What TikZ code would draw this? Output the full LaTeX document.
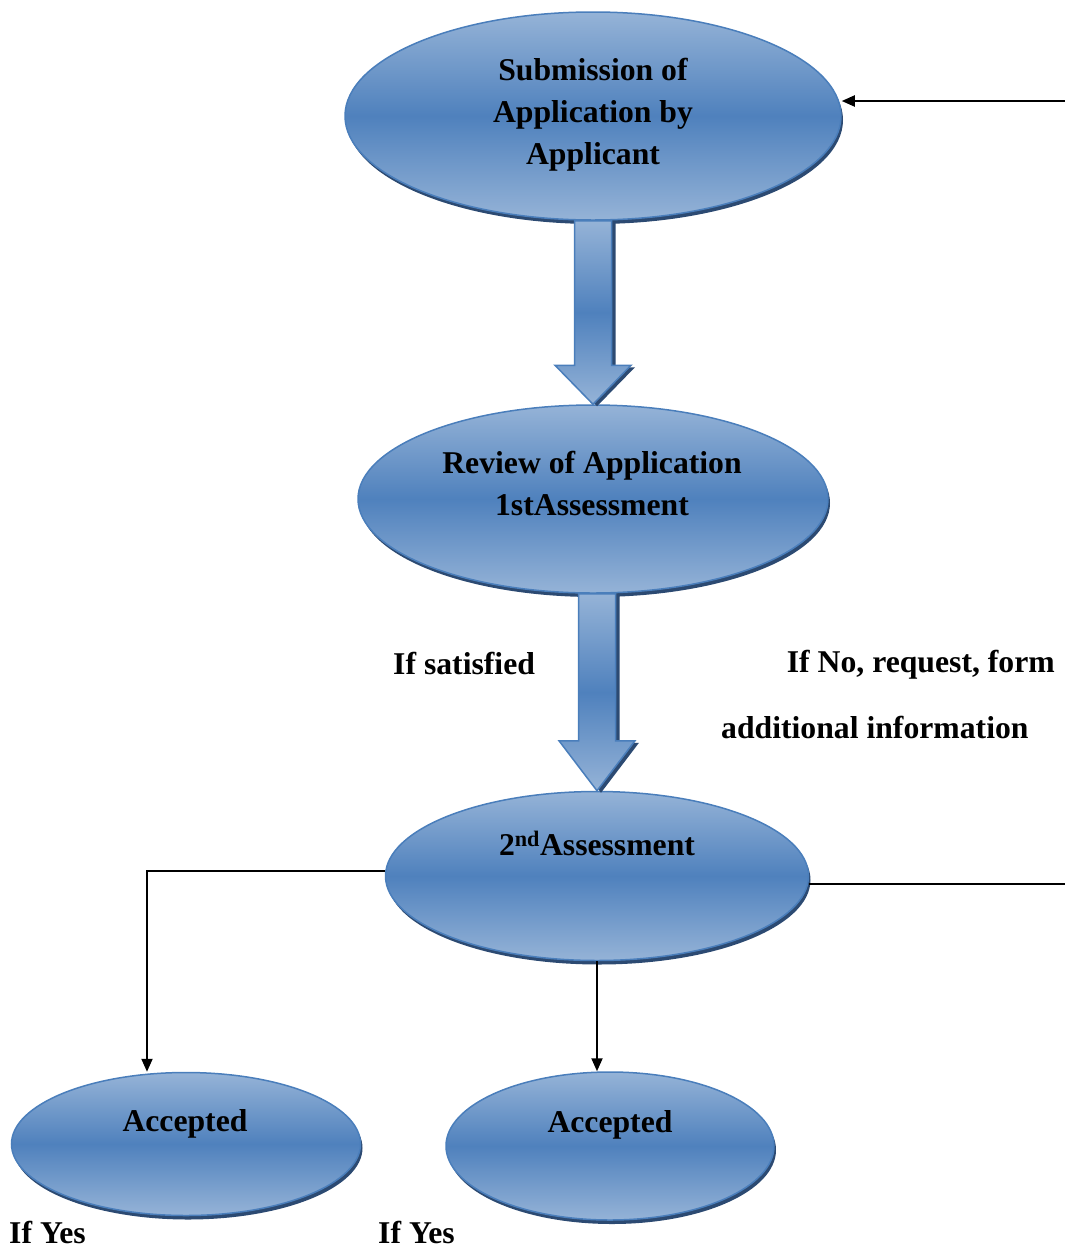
\documentclass[tikz,border=0pt]{standalone}
\usepackage{fontspec}
\setmainfont{Liberation Serif}
\usetikzlibrary{shapes.geometric,arrows.meta,shadows}
\definecolor{bmid}{HTML}{4F81BD}
\definecolor{blite}{HTML}{95B3D7}
\definecolor{bedge}{HTML}{4A7EBB}
\definecolor{bshad}{HTML}{2C4A72}
\tikzset{
  oval/.style={ellipse, draw=bedge, line width=1.5pt, inner sep=0pt,
    top color=blite, bottom color=blite, middle color=bmid,
    drop shadow={shadow xshift=2pt, shadow yshift=-4pt, fill=bshad, opacity=1}},
  barrow/.style={draw=bedge, line width=1.5pt, line join=miter,
    top color=blite, bottom color=blite, middle color=bmid,
    drop shadow={shadow xshift=4pt, shadow yshift=-2pt, fill=bshad, opacity=1}},
  txt/.style={font=\bfseries\fontsize{31.7}{42}\selectfont, inner sep=0pt, align=center},
  conn/.style={line width=2pt, black},
  arr/.style={conn, -{Triangle[length=13pt,width=11pt]}}
}
\begin{document}
\begin{tikzpicture}[x=1pt,y=-1pt]
\useasboundingbox (0,0) rectangle (1065,1248);
% ellipses
\node[oval, minimum width=496pt, minimum height=208pt] (sub) at (593,116) {};
\node[oval, minimum width=470pt, minimum height=188pt] (rev) at (593,499) {};
\node[oval, minimum width=423pt, minimum height=169pt] (a2) at (597,876) {};
\node[oval, minimum width=349pt, minimum height=143pt] (acc1) at (186,1144) {};
\node[oval, minimum width=328pt, minimum height=148pt] (acc2) at (610,1146) {};
% texts
\node[txt] (subt) at (593,115) {Submission of\\Application by\\Applicant};
\node[txt] (revt) at (592,483) {Review of Application\\1stAssessment};
\node[txt] (a2t) at (597,843) {2\textsuperscript{nd}Assessment};
\node[txt] (acc1t) at (185,1124) {Accepted};
\node[txt] (acc2t) at (610,1125) {Accepted};
% block arrows
\path[barrow] ([xshift=-18.5pt]sub.south) -- ([xshift=18.5pt]sub.south)
  -- ([xshift=18.5pt,yshift=39pt]rev.north) -- ([xshift=38pt,yshift=39pt]rev.north)
  -- (rev.north) -- ([xshift=-38pt,yshift=39pt]rev.north)
  -- ([xshift=-18.5pt,yshift=39pt]rev.north) -- cycle;
\coordinate (b2s) at (rev.south -| a2.north);
\path[barrow] ([xshift=-18.5pt]b2s) -- ([xshift=18.5pt]b2s)
  -- ([xshift=18.5pt,yshift=50pt]a2.north) -- ([xshift=38pt,yshift=50pt]a2.north)
  -- (a2.north) -- ([xshift=-38pt,yshift=50pt]a2.north)
  -- ([xshift=-18.5pt,yshift=50pt]a2.north) -- cycle;
% labels
\node[txt, anchor=west] (lsat) at (393,663) {If satisfied};
\node[txt, anchor=east] (lno) at (1055,665) {If No, request, form};
\node[txt, anchor=west] (ladd) at (721,727) {additional information};
\node[txt, anchor=west] (ly1) at (9,1232) {If Yes};
\node[txt, anchor=west] (ly2) at (378,1232) {If Yes};
% connectors
\coordinate (fb) at (1065,101);
\draw[arr] (fb) -- (fb -| sub.east);
\coordinate (rb) at (1065,884);
\draw[conn] (rb -| a2.east) -- (rb);
\coordinate (lc) at (147,871);
\draw[arr] (lc -| a2.west) -- (lc) -- (lc |- acc1.north);
\draw[arr] (a2.south) -- (a2.south |- acc2.north);
\end{tikzpicture}
\end{document}
